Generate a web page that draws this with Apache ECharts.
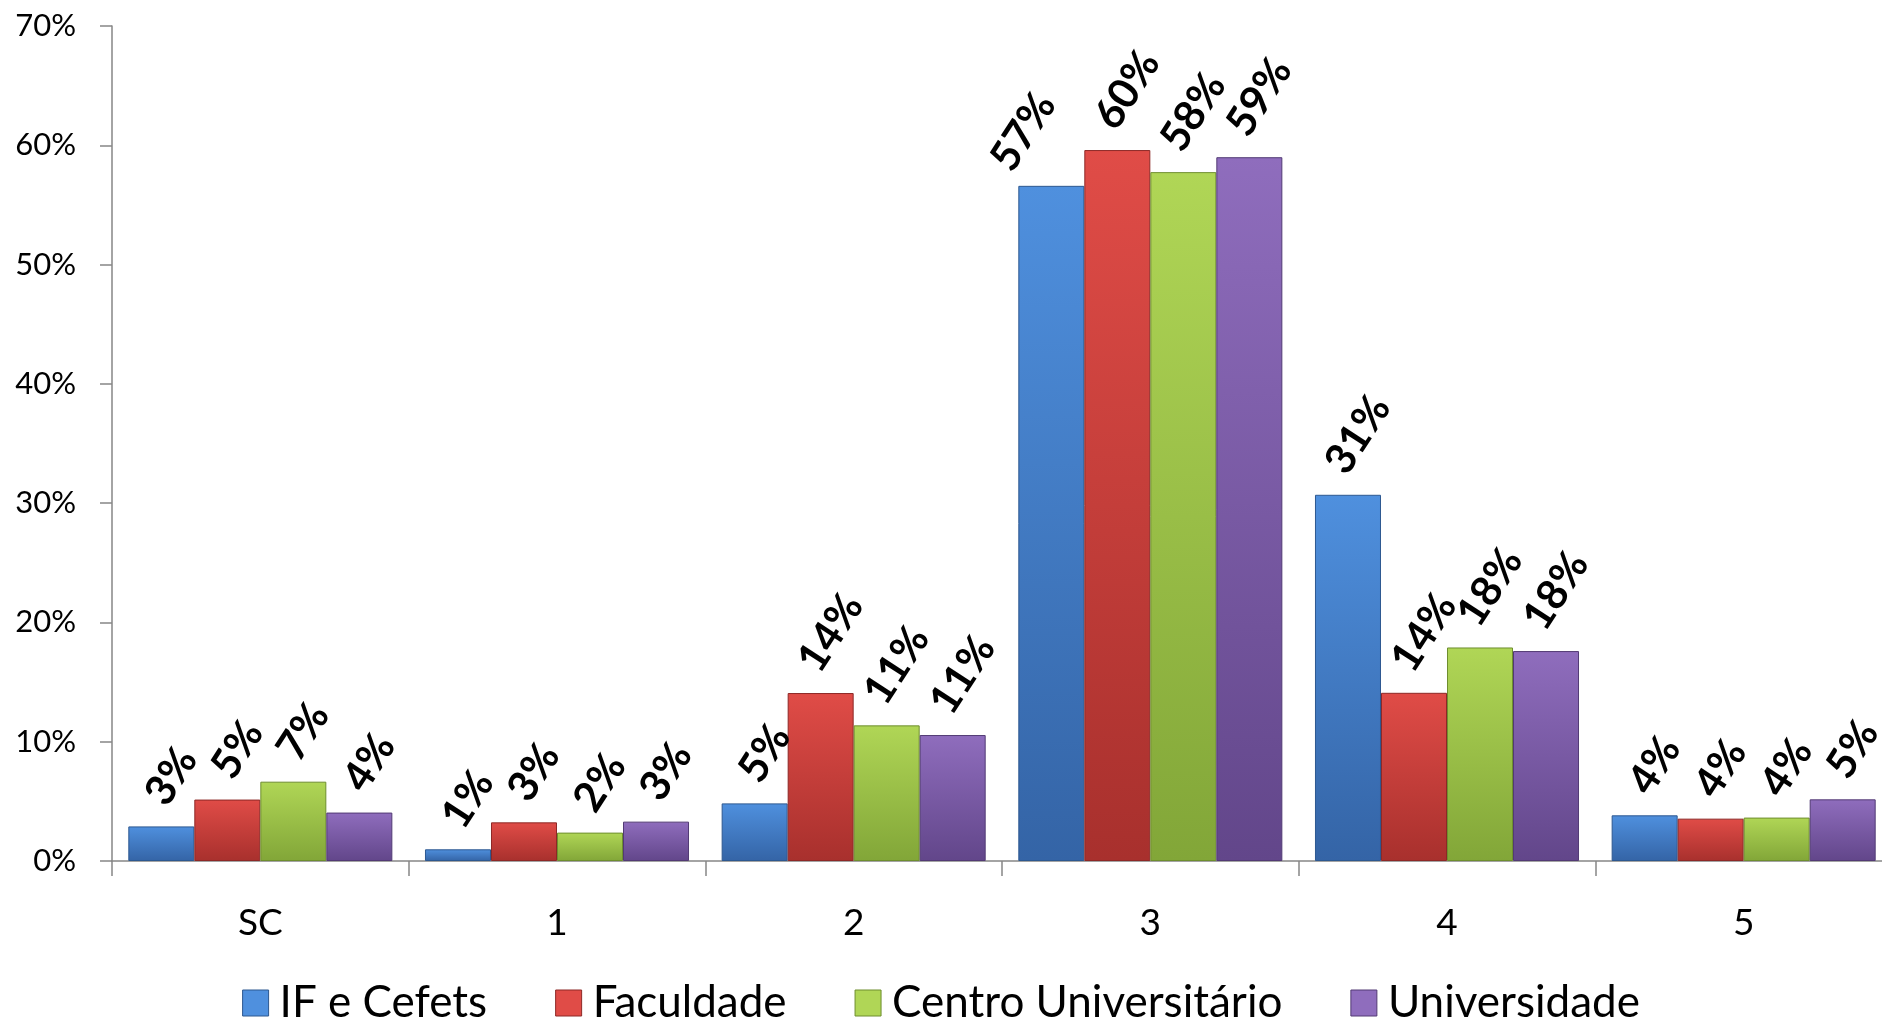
<!DOCTYPE html>
<html>
<head>
<meta charset="utf-8">
<script src="https://cdn.jsdelivr.net/npm/echarts@6/dist/echarts.min.js"></script>
<style>
html,body{margin:0;padding:0;background:#fff;}
#chart{width:1882px;height:1020px;}
</style>
</head>
<body>
<div id="chart"></div>
<script>
const categories = ['SC', '1', '2', '3', '4', '5'];
const seriesNames = ['IF e Cefets', 'Faculdade', 'Centro Universitário', 'Universidade'];
const ifCefets = [2.9, 0.98, 4.83, 56.6, 30.7, 3.83];
const faculdade = [5.15, 3.24, 14.08, 59.6, 14.1, 3.55];
const centroUniv = [6.65, 2.38, 11.37, 57.75, 17.9, 3.64];
const universidade = [4.06, 3.3, 10.56, 59.0, 17.6, 5.17];
const yTicks = [0, 10, 20, 30, 40, 50, 60, 70];

const seriesValues = [ifCefets, faculdade, centroUniv, universidade];
const palette = [
  {top: '#4f90de', bot: '#3464a6', border: '#2d5890'},
  {top: '#e04c47', bot: '#a8302d', border: '#8d2826'},
  {top: '#b0d656', bot: '#82a638', border: '#6e8e2e'},
  {top: '#8f6dbd', bot: '#62468a', border: '#523a74'}
];

// manual label nudge (screen px) for the label that was moved aside in the original
const labelNudge = {'0-3': [-38, 6]};

const LABEL_FONT = 42;
const ROT = 57;
const canvas = document.createElement('canvas');
const ctx = canvas.getContext('2d');
ctx.font = 'bold ' + LABEL_FONT + 'px Lato';
const rad = ROT * Math.PI / 180;
function labelText(v) { return Math.round(v) + '%'; }
function toLocal(dx, dy) {
  return [dx * Math.cos(rad) - dy * Math.sin(rad), dx * Math.sin(rad) + dy * Math.cos(rad)];
}
function itemFor(v, si, ci) {
  const w = ctx.measureText(labelText(v)).width;
  const h = LABEL_FONT * 0.72;
  const vert = w * Math.sin(rad) + h * Math.cos(rad);
  const n = labelNudge[si + '-' + ci] || [0, 0];
  return { value: v, label: { distance: 17 + vert / 2, offset: toLocal(10 + n[0], n[1]) } };
}

const series = seriesValues.map((vals, i) => ({
  name: seriesNames[i],
  type: 'bar',
  barGap: '0%',
  barCategoryGap: '11%',
  data: vals.map((v, ci) => itemFor(v, i, ci)),
  itemStyle: {
    color: new echarts.graphic.LinearGradient(0, 0, 0, 1, [
      {offset: 0, color: palette[i].top},
      {offset: 1, color: palette[i].bot}
    ]),
    borderColor: palette[i].border,
    borderWidth: 1
  },
  label: {
    show: true,
    position: 'top',
    rotate: ROT,
    align: 'center',
    verticalAlign: 'middle',
    formatter: p => labelText(p.value),
    fontFamily: 'Lato',
    fontWeight: 'bold',
    fontSize: LABEL_FONT,
    color: '#000'
  }
}));

const chart = echarts.init(document.getElementById('chart'), null, {renderer: 'canvas'});
chart.setOption({
  animation: false,
  backgroundColor: '#fff',
  grid: {left: 112, top: 26, width: 1780, height: 835, containLabel: false, outerBoundsMode: 'none'},
  legend: {
    data: seriesNames.map((n, i) => ({name: n, itemStyle: {color: palette[i].top, borderColor: palette[i].border, borderWidth: 1}})),
    left: 'center',
    top: 976,
    icon: 'rect',
    itemWidth: 26,
    itemHeight: 26,
    itemGap: 68,
    textStyle: {fontFamily: 'Lato', fontSize: 44, color: '#000', padding: [0, 0, 0, 6]}
  },
  xAxis: {
    type: 'category',
    data: categories,
    axisLine: {lineStyle: {color: '#868686', width: 1.5}},
    axisTick: {show: true, length: 15, alignWithLabel: false, lineStyle: {color: '#868686', width: 1.5}},
    axisLabel: {fontFamily: 'Lato', fontSize: 37, color: '#000', margin: 44}
  },
  yAxis: {
    type: 'value',
    min: yTicks[0],
    max: yTicks[yTicks.length - 1],
    interval: 10,
    axisLine: {show: true, lineStyle: {color: '#868686', width: 1.5}},
    axisTick: {show: true, length: 12, lineStyle: {color: '#868686', width: 1.5}},
    splitLine: {show: false},
    axisLabel: {fontFamily: 'Lato', fontSize: 31, color: '#000', margin: 36, formatter: '{value}%'}
  },
  series: series
});
</script>
</body>
</html>
